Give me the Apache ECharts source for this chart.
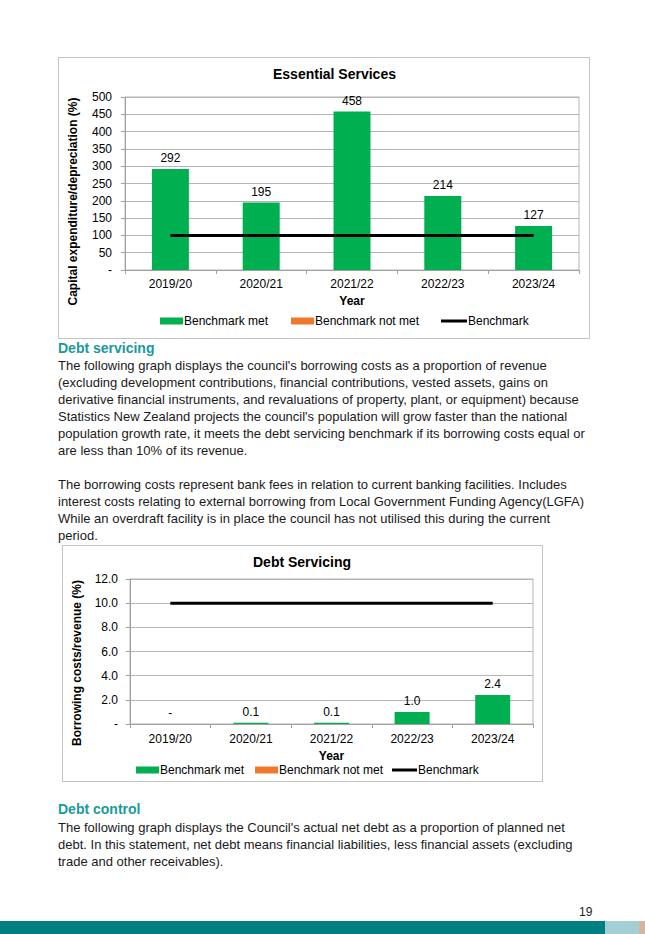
<!DOCTYPE html>
<html>
<head>
<meta charset="utf-8">
<script src="https://cdn.jsdelivr.net/npm/echarts@6/dist/echarts.min.js"></script>
<style>
  html, body { margin:0; padding:0; background:#fff; }
  body { width:645px; height:934px; position:relative; overflow:hidden;
         font-family:'Liberation Sans', Arial, sans-serif; color:#1a1a1a; }
  .box { position:absolute; box-sizing:border-box; border:1px solid #c4c4c4; background:#fff; }
  .h { position:absolute; left:58px; font-weight:bold; font-size:14px; line-height:17px; color:#1a9a9a; white-space:nowrap; }
  .p { position:absolute; left:58px; font-size:13px; line-height:17px; white-space:nowrap; }
  .p div { height:17px; }
  #pg { position:absolute; left:579px; top:905px; font-size:12px; line-height:14px; color:#222; }
  .bar { position:absolute; top:921px; height:13px; }
</style>
</head>
<body>
<div class="box" id="c1" style="left:58px;top:57px;width:532px;height:282px;"></div>

<div class="h" style="top:340px;">Debt servicing</div>
<div class="p" style="top:357px;">
  <div>The following graph displays the council's borrowing costs as a proportion of revenue</div>
  <div>(excluding development contributions, financial contributions, vested assets, gains on</div>
  <div>derivative financial instruments, and revaluations of property, plant, or equipment) because</div>
  <div>Statistics New Zealand projects the council's population will grow faster than the national</div>
  <div>population growth rate, it meets the debt servicing benchmark if its borrowing costs equal or</div>
  <div>are less than 10% of its revenue.</div>
  <div></div>
  <div>The borrowing costs represent bank fees in relation to current banking facilities. Includes</div>
  <div>interest costs relating to external borrowing from Local Government Funding Agency(LGFA)</div>
  <div>While an overdraft facility is in place the council has not utilised this during the current</div>
  <div>period.</div>
</div>

<div class="box" id="c2" style="left:62px;top:545px;width:481px;height:237px;"></div>

<div class="h" style="top:801px;">Debt control</div>
<div class="p" style="top:819px;">
  <div>The following graph displays the Council's actual net debt as a proportion of planned net</div>
  <div>debt. In this statement, net debt means financial liabilities, less financial assets (excluding</div>
  <div>trade and other receivables).</div>
</div>

<div id="pg">19</div>
<div class="bar" style="left:0;width:605px;background:#007f80;"></div>
<div class="bar" style="left:605px;width:34px;background:#a3cfd4;"></div>
<div class="bar" style="left:639px;width:6px;background:#d8b49c;"></div>

<script>
// ---- data ----
const years = ['2019/20', '2020/21', '2021/22', '2022/23', '2023/24'];
const essentialMet = [292, 195, 458, 214, 127];
const essentialNotMet = [null, null, null, null, null];
const essentialBenchmark = [100, 100, 100, 100, 100];
const debtMet = [0, 0.1, 0.1, 1.0, 2.4];
const debtNotMet = [null, null, null, null, null];
const debtBenchmark = [10, 10, 10, 10, 10];
const seriesNames = ['Benchmark met', 'Benchmark not met', 'Benchmark'];

const FONT = "'Liberation Sans', Arial, sans-serif";
const GREEN = '#00b050', ORANGE = '#f0782d', GRID = '#b5b5b5';

function legendItem(name, left, top, w, h) {
  return {
    left: left, top: top, padding: 0, itemWidth: w, itemHeight: h,
    textStyle: { fontFamily: FONT, fontSize: 12, color: '#000', padding: [0, 0, 0, -4] },
    data: [{ name: name, icon: 'rect' }]
  };
}

function makeOption(cfg) {
  return {
    animation: false,
    textStyle: { fontFamily: FONT, color: '#000' },
    title: {
      text: cfg.title, left: cfg.titleLeft, top: cfg.titleTop, padding: 0,
      textStyle: { fontFamily: FONT, fontSize: 14, fontWeight: 'bold', color: '#000' }
    },
    grid: { left: cfg.grid[0], right: cfg.grid[1], top: cfg.grid[2], bottom: cfg.grid[3],
            show: true, borderColor: GRID, borderWidth: 1 },
    legend: [
      legendItem(seriesNames[0], cfg.legendLefts[0], cfg.legendTop, 23, 7),
      legendItem(seriesNames[1], cfg.legendLefts[1], cfg.legendTop, 23, 7),
      legendItem(seriesNames[2], cfg.legendLefts[2], cfg.legendTop, cfg.lineIconW, 3)
    ],
    xAxis: {
      type: 'category', data: years,
      name: 'Year', nameLocation: 'middle', nameGap: cfg.xNameGap,
      nameTextStyle: { fontFamily: FONT, fontSize: 12, fontWeight: 'bold', color: '#000' },
      axisLine: { lineStyle: { color: '#a0a0a0' } },
      axisTick: { show: true, length: 4, lineStyle: { color: '#a0a0a0' } },
      axisLabel: { margin: cfg.xLabelMargin, fontSize: 12, color: '#000', fontFamily: FONT }
    },
    yAxis: {
      type: 'value', min: 0, max: cfg.max, interval: cfg.interval,
      name: cfg.yName, nameLocation: 'middle', nameGap: cfg.yNameGap,
      nameTextStyle: { fontFamily: FONT, fontSize: 12, fontWeight: 'bold', color: '#000',
                       padding: [0, cfg.yNamePad, 0, 0] },
      axisLine: { show: true, lineStyle: { color: '#a0a0a0' } },
      axisTick: { show: true, length: 4, lineStyle: { color: '#a0a0a0' } },
      splitLine: { show: true, lineStyle: { color: GRID, width: 1 } },
      axisLabel: { margin: cfg.yLabelMargin, fontSize: 12, color: '#000', fontFamily: FONT,
                   formatter: cfg.yFmt }
    },
    series: [
      { name: seriesNames[0], type: 'bar', stack: 'b', data: cfg.met, barWidth: cfg.barWidth,
        itemStyle: { color: GREEN },
        label: { show: true, position: 'top', distance: 5, fontSize: 12, color: '#000',
                 fontFamily: FONT, formatter: cfg.labelFmt } },
      { name: seriesNames[1], type: 'bar', stack: 'b', data: cfg.notMet, barWidth: cfg.barWidth,
        itemStyle: { color: ORANGE } },
      { name: seriesNames[2], type: 'line', data: cfg.bench, symbol: 'none',
        lineStyle: { color: '#000', width: 3 }, itemStyle: { color: '#000' } }
    ]
  };
}

const c1 = echarts.init(document.getElementById('c1'), null, { renderer: 'svg' });
c1.setOption(makeOption({
  title: 'Essential Services', titleLeft: 214, titleTop: 9,
  grid: [60, 10, 39, 68],
  legendLefts: [101, 232, 382], legendTop: 257, lineIconW: 26,
  xNameGap: 24, xLabelMargin: 8,
  max: 500, interval: 50,
  yName: 'Capital expenditure/depreciation (%)', yNameGap: 46, yNamePad: 36, yLabelMargin: 13,
  yFmt: v => v === 0 ? '-' : String(v),
  met: essentialMet, notMet: essentialNotMet, bench: essentialBenchmark, barWidth: 37,
  labelFmt: p => p.value === 0 ? '-' : String(p.value)
}));

const c2 = echarts.init(document.getElementById('c2'), null, { renderer: 'svg' });
c2.setOption(makeOption({
  title: 'Debt Servicing', titleLeft: 190, titleTop: 9,
  grid: [54, 9, 33, 57],
  legendLefts: [73, 192, 329], legendTop: 218, lineIconW: 25,
  xNameGap: 25, xLabelMargin: 9,
  max: 12, interval: 2,
  yName: 'Borrowing costs/revenue (%)', yNameGap: 47, yNamePad: 23, yLabelMargin: 12,
  yFmt: v => v === 0 ? '-' : v.toFixed(1),
  met: debtMet, notMet: debtNotMet, bench: debtBenchmark, barWidth: 35,
  labelFmt: p => p.value === 0 ? '-' : p.value.toFixed(1)
}));
</script>
</body>
</html>
